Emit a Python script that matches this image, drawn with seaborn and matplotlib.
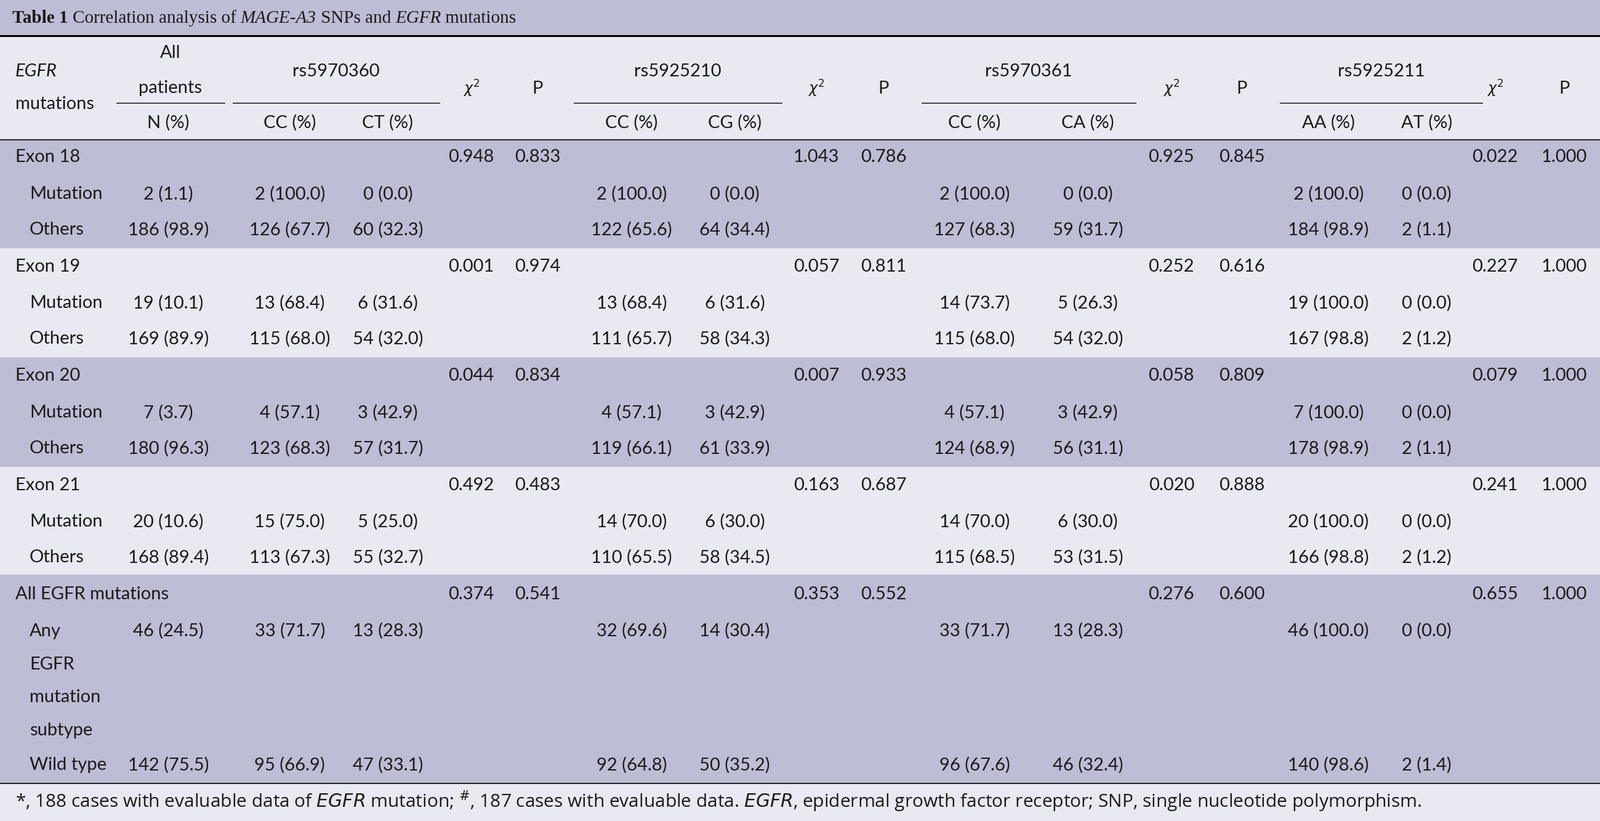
import matplotlib
matplotlib.use("Agg")
import matplotlib.pyplot as plt
import seaborn as sns

sns.set_theme(style="white")

# ---- data ----
groups = ["Exon 18", "Exon 19", "Exon 20", "Exon 21", "All EGFR mutations"]
group_stats = [
    ["0.948", "0.833", "1.043", "0.786", "0.925", "0.845", "0.022", "1.000"],
    ["0.001", "0.974", "0.057", "0.811", "0.252", "0.616", "0.227", "1.000"],
    ["0.044", "0.834", "0.007", "0.933", "0.058", "0.809", "0.079", "1.000"],
    ["0.492", "0.483", "0.163", "0.687", "0.020", "0.888", "0.241", "1.000"],
    ["0.374", "0.541", "0.353", "0.552", "0.276", "0.600", "0.655", "1.000"],
]
sub_labels = [
    ["Mutation", "Others"],
    ["Mutation", "Others"],
    ["Mutation", "Others"],
    ["Mutation", "Others"],
    ["Any\nEGFR\nmutation\nsubtype", "Wild type"],
]
# columns: N, CC, CT, CC, CG, CC, CA, AA, AT
sub_values = [
    [["2 (1.1)", "2 (100.0)", "0 (0.0)", "2 (100.0)", "0 (0.0)", "2 (100.0)", "0 (0.0)", "2 (100.0)", "0 (0.0)"],
     ["186 (98.9)", "126 (67.7)", "60 (32.3)", "122 (65.6)", "64 (34.4)", "127 (68.3)", "59 (31.7)", "184 (98.9)", "2 (1.1)"]],
    [["19 (10.1)", "13 (68.4)", "6 (31.6)", "13 (68.4)", "6 (31.6)", "14 (73.7)", "5 (26.3)", "19 (100.0)", "0 (0.0)"],
     ["169 (89.9)", "115 (68.0)", "54 (32.0)", "111 (65.7)", "58 (34.3)", "115 (68.0)", "54 (32.0)", "167 (98.8)", "2 (1.2)"]],
    [["7 (3.7)", "4 (57.1)", "3 (42.9)", "4 (57.1)", "3 (42.9)", "4 (57.1)", "3 (42.9)", "7 (100.0)", "0 (0.0)"],
     ["180 (96.3)", "123 (68.3)", "57 (31.7)", "119 (66.1)", "61 (33.9)", "124 (68.9)", "56 (31.1)", "178 (98.9)", "2 (1.1)"]],
    [["20 (10.6)", "15 (75.0)", "5 (25.0)", "14 (70.0)", "6 (30.0)", "14 (70.0)", "6 (30.0)", "20 (100.0)", "0 (0.0)"],
     ["168 (89.4)", "113 (67.3)", "55 (32.7)", "110 (65.5)", "58 (34.5)", "115 (68.5)", "53 (31.5)", "166 (98.8)", "2 (1.2)"]],
    [["46 (24.5)", "33 (71.7)", "13 (28.3)", "32 (69.6)", "14 (30.4)", "33 (71.7)", "13 (28.3)", "46 (100.0)", "0 (0.0)"],
     ["142 (75.5)", "95 (66.9)", "47 (33.1)", "92 (64.8)", "50 (35.2)", "96 (67.6)", "46 (32.4)", "140 (98.6)", "2 (1.4)"]],
]
snps = ["rs5970360", "rs5925210", "rs5970361", "rs5925211"]
genotypes = ["CC (%)", "CT (%)", "CC (%)", "CG (%)", "CC (%)", "CA (%)", "AA (%)", "AT (%)"]

# ---- layout (in 1568x804 reference units) ----
W, H = 1568, 804
DARK, LIGHT = "#bdbdd5", "#e9e9f2"
FONT = "Lato"
FS = 21
val_x = [165, 284, 380, 619, 720, 955, 1066, 1302, 1398]
stat_x = [462, 527, 800, 866, 1148, 1217, 1465, 1533]
snp_span = [(228, 431), (562, 766), (903, 1113), (1254, 1453)]
group_bands = [(137, 243), (243, 350), (350, 457), (457, 563), (563, 767)]
group_y = [154, 261, 368, 475, 582]
sub_y = [[190, 225], [297, 332], [404, 439], [511, 546], [618, 749]]

fig = plt.figure(figsize=(25.99, 13.33), dpi=100)
ax = fig.add_axes([0, 0, 1, 1])
ax.set_xlim(0, W)
ax.set_ylim(H, 0)
ax.axis("off")

def band(y0, y1, c):
    ax.fill_between([0, W], y0, y1, color=c, lw=0)

band(0, 35, DARK)
band(35, 137, LIGHT)
for i, (y0, y1) in enumerate(group_bands):
    band(y0, y1, DARK if i % 2 == 0 else LIGHT)
band(767, H, LIGHT)
ax.plot([0, W], [35, 35], color="black", lw=2.2)
ax.plot([0, W], [137, 137], color="black", lw=1.2)
ax.plot([0, W], [767, 767], color="black", lw=1.2)

def t(x, y, s, ha="center", **kw):
    kw.setdefault("fontsize", FS)
    kw.setdefault("family", FONT)
    ax.text(x, y, s, ha=ha, va="center", color="#1a1a1a", **kw)

# title: chain pieces one after another
renderer = fig.canvas.get_renderer()
title_parts = [("Table 1 ", "bold", "normal"), ("Correlation analysis of ", "normal", "normal"),
               ("MAGE-A3", "normal", "italic"), (" SNPs and ", "normal", "normal"),
               ("EGFR", "normal", "italic"), (" mutations", "normal", "normal")]
x = 12
for s, wt, st in title_parts:
    tx = ax.text(x, 18, s, ha="left", va="center", fontsize=21, family="Liberation Serif",
                 weight=wt, style=st, color="#1a1a1a")
    bb = tx.get_window_extent(renderer).transformed(ax.transData.inverted())
    x = max(bb.x0, bb.x1)

# header
t(15, 70, "EGFR", ha="left", style="italic")
t(15, 102, "mutations", ha="left")
t(167, 52, "All")
t(167, 86, "patients")
ax.plot([114, 220], [101, 101], color="black", lw=1)
t(val_x[0], 120, "N (%)")
for i, (x0, x1) in enumerate(snp_span):
    t((x0 + x1) / 2, 70, snps[i])
    ax.plot([x0, x1], [101, 101], color="black", lw=1)
for i, g in enumerate(genotypes):
    t(val_x[i + 1], 120, g)
for j in range(4):
    t(stat_x[2 * j], 87, r"$\chi^2$", family="DejaVu Serif", fontsize=17)
    t(stat_x[2 * j + 1], 87, "P")

# body
for gi, g in enumerate(groups):
    t(15, group_y[gi], g, ha="left")
    for k, s in enumerate(group_stats[gi]):
        t(stat_x[k], group_y[gi], s)
    for si in range(2):
        y = sub_y[gi][si]
        lab = sub_labels[gi][si]
        if "\n" in lab:
            for li, part in enumerate(lab.split("\n")):
                t(29, y + li * 32.5, part, ha="left")
        else:
            t(29, y, lab, ha="left")
        for k, s in enumerate(sub_values[gi][si]):
            t(val_x[k], y, s)

# footnote
t(15, 785, r"*, 188 cases with evaluable data of $\it{EGFR}$ mutation; $^{\#}$, 187 cases with evaluable data. "
   r"$\it{EGFR}$, epidermal growth factor receptor; SNP, single nucleotide polymorphism.", ha="left",
  fontsize=21.5, family="Open Sans")

fig.savefig("out.png", dpi=100)
